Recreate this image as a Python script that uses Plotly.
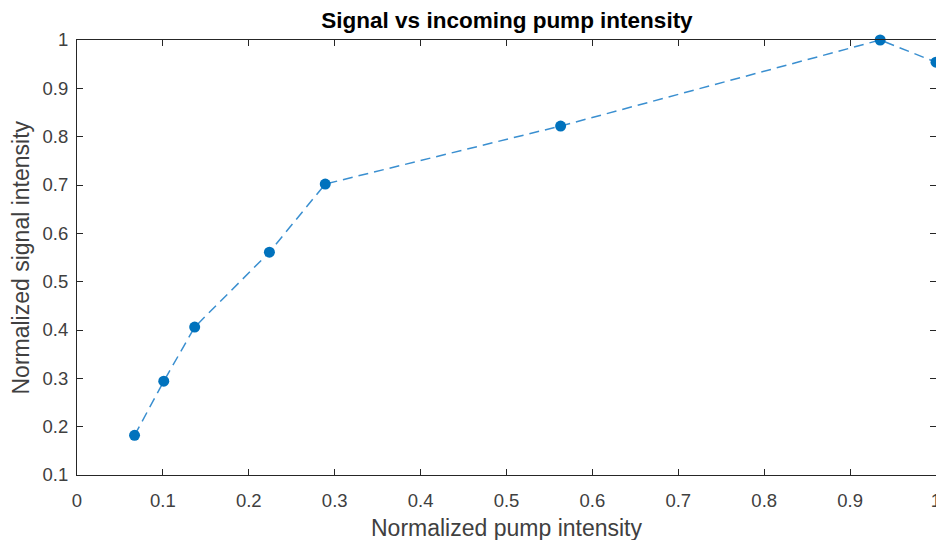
import plotly.graph_objects as go

pump = [0.067, 0.101, 0.137, 0.224, 0.289, 0.563, 0.935, 1.0]
signal = [0.182, 0.294, 0.406, 0.561, 0.702, 0.822, 1.0, 0.954]
x_ticks = [0, 0.1, 0.2, 0.3, 0.4, 0.5, 0.6, 0.7, 0.8, 0.9, 1]
x_labels = ["0", "0.1", "0.2", "0.3", "0.4", "0.5", "0.6", "0.7", "0.8", "0.9", "1"]
y_ticks = [0.1, 0.2, 0.3, 0.4, 0.5, 0.6, 0.7, 0.8, 0.9, 1]
y_labels = ["0.1", "0.2", "0.3", "0.4", "0.5", "0.6", "0.7", "0.8", "0.9", "1"]

FONT = "Liberation Sans, Arial"
fig = go.Figure()
fig.add_trace(go.Scatter(
    x=pump, y=signal, mode="lines+markers",
    line=dict(color="#3a8fd0", width=1.5, dash="10px,6px"),
    marker=dict(color="#0072BD", size=11),
    cliponaxis=False, showlegend=False,
))

axis_common = dict(
    showline=True, linecolor="#262626", linewidth=1, mirror="ticks",
    ticks="inside", ticklen=6, tickcolor="#262626", showgrid=False, zeroline=False,
    tickfont=dict(family=FONT, size=18.5, color="#404040"),
    ticklabeloverflow="allow", automargin=False,
)
fig.update_xaxes(range=[0, 1], tickvals=x_ticks, ticktext=x_labels,
                 ticklabelstandoff=9, **axis_common)
fig.update_yaxes(range=[0.1, 1], tickvals=y_ticks, ticktext=y_labels,
                 ticklabelstandoff=4, **axis_common)

fig.update_layout(
    width=936, height=540,
    margin=dict(l=77, r=0, t=40, b=65, autoexpand=False),
    paper_bgcolor="white", plot_bgcolor="white",
    title=dict(text="<b>Signal vs incoming pump intensity</b>", x=507/936, xanchor="center",
               xref="container", y=1 - 20 / 540, yanchor="middle", yref="container",
               font=dict(family=FONT, size=22.5, color="#000000")),
    annotations=[
        dict(text="Normalized pump intensity", x=0.5, xref="paper", y=0, yref="paper",
             yshift=-53, yanchor="middle", xanchor="center", showarrow=False,
             font=dict(family=FONT, size=23, color="#404040")),
        dict(text="Normalized signal intensity", x=0, xref="paper", y=0.5, yref="paper",
             xshift=-57, xanchor="center", yanchor="middle", textangle=-90, showarrow=False,
             font=dict(family=FONT, size=23, color="#404040")),
    ],
)

fig.write_html("out.html")
